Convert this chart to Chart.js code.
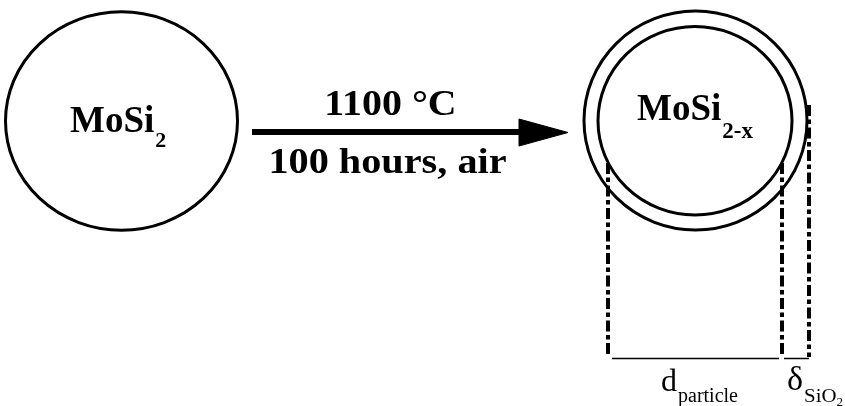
<!DOCTYPE html>
<html lang="en">
<head>
    <meta charset="UTF-8">
    <title>MoSi2 oxidation sketch</title>
    <script src="https://cdn.jsdelivr.net/npm/chart.js"></script>
    <style>
        html, body {
            margin: 0;
            padding: 0;
            background: #fff;
        }
        #sketch {
            display: block;
        }
    </style>
</head>
<body>
    <canvas id="sketch" width="845" height="406"></canvas>
    <script>
        // diagram units: x 0..845, y 0..406 (top down)
        const circleX = [121.5, 695.5, 695];
        const circleY = [121, 120.5, 120.8];
        const circleRX = [116, 111.5, 97];
        const circleRY = [109.2, 109.5, 94.2];

        // dash-dot projection lines
        const guideX = [608, 782, 809];
        const guideTop = [163, 163, 105];
        const guideBottom = [357, 357, 357];

        // dimension lines under the guides
        const dimStart = [612, 784];
        const dimEnd = [779, 809];
        const dimY = [358.5, 358.5];

        // reaction arrow
        const arrowX = [252, 520];
        const arrowY = [132, 132];
        const headX = [519, 568, 519, 519];
        const headY = [119, 132.5, 146, 119];

        // labels
        const labelText = ['MoSi', '1100 °C', '100 hours, air', 'MoSi', 'd', 'δ'];
        const labelSub = ['2', '', '', '2-x', 'particle', 'SiO'];
        const labelSub2 = ['', '', '', '', '', '2'];
        const labelX = [70, 390.5, 387.5, 637, 661, 787];
        const labelY = [131.5, 115, 173.3, 120, 391, 390];

        const serif = "'Liberation Serif', 'Times New Roman', serif";
        const labelStyle = [
            { font: 'bold 37px', sub: 'bold 22px', dy: 15, sx: 1, align: 'left' },
            { font: 'bold 35px', sx: 1.14, align: 'center' },
            { font: 'bold 35px', sx: 1.15, align: 'center' },
            { font: 'bold 37px', sub: 'bold 23px', dy: 17.5, sx: 1, align: 'left' },
            { font: '32px', sub: '20px', dy: 11, sx: 1, align: 'left' },
            { font: '34px', sub: '19px', dy: 12, sx: 1, subSx: 1.1, sub2: '13px', dy2: 3.5, align: 'left' }
        ];

        const datasets = [];
        guideX.forEach((gx, i) => {
            datasets.push({
                data: [{ x: gx, y: guideTop[i] }, { x: gx, y: guideBottom[i] }],
                showLine: true,
                borderColor: '#000',
                borderWidth: 4,
                borderDash: [11, 3.5, 4.5, 3.5],
                pointRadius: 0
            });
        });
        dimStart.forEach((ds, i) => {
            datasets.push({
                data: [{ x: ds, y: dimY[i] }, { x: dimEnd[i], y: dimY[i] }],
                showLine: true,
                borderColor: '#000',
                borderWidth: 1.5,
                pointRadius: 0
            });
        });
        datasets.push({
            data: arrowX.map((x, i) => ({ x: x, y: arrowY[i] })),
            showLine: true,
            borderColor: '#000',
            borderWidth: 6,
            pointRadius: 0
        });
        datasets.push({
            data: headX.map((x, i) => ({ x: x, y: headY[i] })),
            showLine: true,
            borderColor: '#000',
            backgroundColor: '#000',
            borderWidth: 1,
            fill: 'shape',
            pointRadius: 0
        });

        const circlePlugin = {
            id: 'circles',
            beforeDatasetsDraw(chart) {
                const ctx = chart.ctx;
                const xs = chart.scales.x, ys = chart.scales.y;
                ctx.save();
                ctx.strokeStyle = '#000';
                ctx.lineWidth = 3;
                circleX.forEach((cx, i) => {
                    const px = xs.getPixelForValue(cx);
                    const py = ys.getPixelForValue(circleY[i]);
                    const rx = Math.abs(xs.getPixelForValue(cx + circleRX[i]) - px);
                    const ry = Math.abs(ys.getPixelForValue(circleY[i] + circleRY[i]) - py);
                    ctx.beginPath();
                    ctx.ellipse(px, py, rx, ry, 0, 0, Math.PI * 2);
                    ctx.stroke();
                });
                ctx.restore();
            }
        };

        const labelPlugin = {
            id: 'labels',
            afterDatasetsDraw(chart) {
                const ctx = chart.ctx;
                const xs = chart.scales.x, ys = chart.scales.y;
                labelText.forEach((txt, i) => {
                    const st = labelStyle[i];
                    let px = xs.getPixelForValue(labelX[i]);
                    const py = ys.getPixelForValue(labelY[i]);
                    ctx.save();
                    ctx.fillStyle = '#000';
                    ctx.textBaseline = 'alphabetic';
                    ctx.textAlign = 'left';
                    ctx.font = st.font + ' ' + serif;
                    const w = ctx.measureText(txt).width * st.sx;
                    if (st.align === 'center') px -= w / 2;
                    ctx.translate(px, py);
                    ctx.save();
                    ctx.scale(st.sx, 1);
                    ctx.fillText(txt, 0, 0);
                    ctx.restore();
                    if (labelSub[i]) {
                        const ssx = st.subSx || st.sx;
                        ctx.font = st.sub + ' ' + serif;
                        const sw = ctx.measureText(labelSub[i]).width * ssx;
                        ctx.save();
                        ctx.translate(w + 1, st.dy);
                        ctx.scale(ssx, 1);
                        ctx.fillText(labelSub[i], 0, 0);
                        ctx.restore();
                        if (labelSub2[i]) {
                            ctx.font = st.sub2 + ' ' + serif;
                            ctx.fillText(labelSub2[i], w + 1 + sw, st.dy + st.dy2);
                        }
                    }
                    ctx.restore();
                });
            }
        };

        new Chart(document.getElementById('sketch'), {
            type: 'scatter',
            data: { datasets: datasets },
            options: {
                responsive: false,
                animation: false,
                events: [],
                layout: { padding: 0 },
                plugins: {
                    legend: { display: false },
                    tooltip: { enabled: false }
                },
                scales: {
                    x: { type: 'linear', min: 0, max: 845, display: false },
                    y: { type: 'linear', min: 0, max: 406, reverse: true, display: false }
                }
            },
            plugins: [circlePlugin, labelPlugin]
        });
    </script>
</body>
</html>
